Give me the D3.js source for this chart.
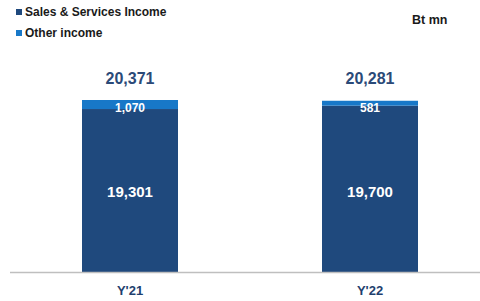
<!DOCTYPE html>
<html>
<head>
<meta charset="UTF-8">
<script src="https://cdn.jsdelivr.net/npm/d3@7"></script>
<style>
  body { margin: 0; background: #fff; }
  text { font-family: "Liberation Sans", Arial, sans-serif; }
</style>
</head>
<body>
<svg id="chart"></svg>
<script>
var years = ["Y'21", "Y'22"];
var sales = [19301, 19700];
var other = [1070, 581];
var totals = [20371, 20281];
var seriesNames = ["Sales & Services Income", "Other income"];
var colors = ["#1f497d", "#1878c8"];

var w = 480, h = 301;
var baseY = 272, topY = 100;

var svg = d3.select("#chart").attr("width", w).attr("height", h);

var x = d3.scaleBand().domain(years).range([10, 490]).paddingInner(0.6).paddingOuter(0.3);
var y = d3.scaleLinear().domain([0, 20371]).range([baseY, topY]);

var fmt = d3.format(",");

var g = svg.append("g");

years.forEach(function (yr, i) {
    var x0 = x(yr), bw = x.bandwidth();
    g.append("rect")
        .attr("x", x0).attr("width", bw)
        .attr("y", y(sales[i])).attr("height", baseY - y(sales[i]))
        .attr("fill", colors[0]);
    g.append("rect")
        .attr("x", x0).attr("width", bw)
        .attr("y", y(totals[i])).attr("height", y(sales[i]) - y(totals[i]))
        .attr("fill", colors[1]);
    // inner labels
    g.append("text")
        .attr("x", x0 + bw / 2).attr("y", 197)
        .attr("text-anchor", "middle").attr("fill", "#fff")
        .attr("font-size", 15).attr("font-weight", "bold").text(fmt(sales[i]));
    g.append("text")
        .attr("x", x0 + bw / 2).attr("y", 112)
        .attr("text-anchor", "middle").attr("fill", "#fff")
        .attr("font-size", 12).attr("font-weight", "bold").text(fmt(other[i]));
    g.append("text")
        .attr("x", x0 + bw / 2).attr("y", 84)
        .attr("text-anchor", "middle").attr("fill", "#2b4a78")
        .attr("font-size", 16).attr("font-weight", "bold").text(fmt(totals[i]));
});

// axis
var axis = svg.append("g").attr("transform", "translate(0," + baseY + ")")
    .call(d3.axisBottom(x).tickSize(0).tickPadding(14));
axis.select(".domain").attr("d", "M10,0.5H480").attr("stroke", "#bfbfbf").attr("stroke-width", 1.5);
axis.selectAll(".tick text")
    .attr("font-size", 13).attr("font-weight", "bold").attr("fill", "#1f3f6e")
    .attr("font-family", "Liberation Sans, Arial, sans-serif");

// legend
var leg = svg.append("g");
seriesNames.forEach(function (s, i) {
    leg.append("rect").attr("x", 16).attr("y", 9 + i * 21).attr("width", 6).attr("height", 6).attr("fill", colors[i]);
    leg.append("text").attr("x", 25).attr("y", 16 + i * 21)
        .attr("font-size", 12).attr("fill", "#1a1a1a").attr("font-weight", "bold").text(s);
});

svg.append("text").attr("x", 412).attr("y", 24).attr("font-size", 12.5)
    .attr("fill", "#1a1a1a").attr("font-weight", "bold").text("Bt mn");
</script>
</body>
</html>
